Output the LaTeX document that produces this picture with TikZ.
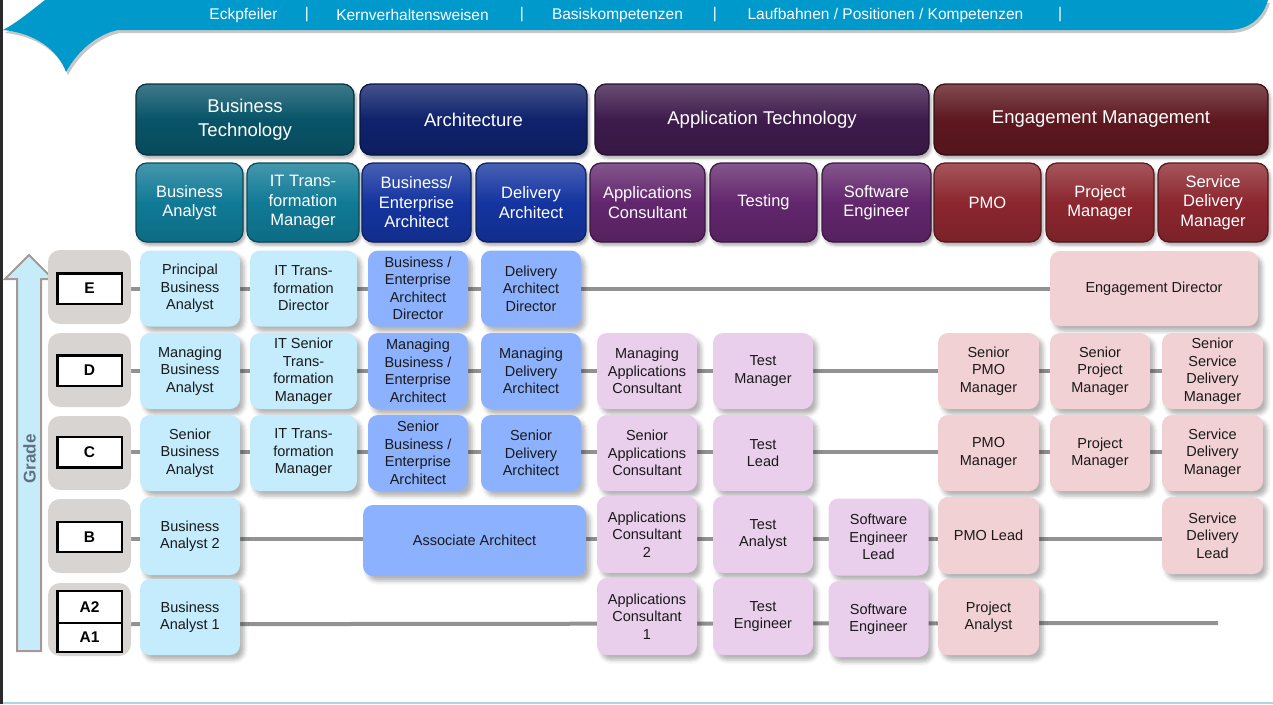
\documentclass[tikz,border=0pt]{standalone}
\usepackage{fontspec}
\setmainfont{Liberation Sans}
\usetikzlibrary{shadows.blur}

\definecolor{banner}{RGB}{0,153,204}
\definecolor{btD}{RGB}{8,84,104}
\definecolor{btM}{RGB}{16,122,150}
\definecolor{btL}{RGB}{196,236,252}
\definecolor{arD}{RGB}{15,34,108}
\definecolor{arM}{RGB}{20,52,160}
\definecolor{arL}{RGB}{140,178,255}
\definecolor{apD}{RGB}{62,27,76}
\definecolor{apM}{RGB}{98,38,108}
\definecolor{apL}{RGB}{233,207,236}
\definecolor{emD}{RGB}{94,24,31}
\definecolor{emM}{RGB}{140,38,46}
\definecolor{emL}{RGB}{242,209,213}
\definecolor{gradeG}{RGB}{216,212,209}
\definecolor{lineG}{RGB}{146,146,146}
\definecolor{txt}{RGB}{25,25,25}
\definecolor{arrowFill}{RGB}{198,236,250}
\definecolor{arrowRim}{RGB}{165,152,150}
\definecolor{gradeTxt}{RGB}{95,112,128}
\definecolor{frame}{RGB}{42,42,42}
\definecolor{baseLine}{RGB}{170,215,230}

\newcommand\fs[2]{\fontsize{#1}{#2}\selectfont}
\newcommand\bannerpath{(45,0) -- (1268,0) .. controls (1263,17) and (1250,30) .. (1228,30)
  -- (118,30) .. controls (98,34) and (78,50) .. (66,72)
  .. controls (58,50) and (35,33) .. (3,30)
  .. controls (18,22) and (32,10) .. (45,0) -- cycle}

\pgfdeclarelayer{back}
\pgfsetlayers{back,main}

\tikzset{
  hdr/.style={rounded corners=11pt, draw=#1!60!black, line width=1.2pt,
    top color=#1!78!white, bottom color=#1!88!black, middle color=#1,
    text=white, align=center, inner sep=0pt,
    blur shadow={shadow xshift=2pt, shadow yshift=-3pt, shadow blur radius=3pt, shadow opacity=35}},
  cat/.style={hdr=#1, minimum height=71pt, font=\fs{18.5}{24}},
  sub/.style={hdr=#1, minimum height=79pt, font=\fs{16.5}{19.5}},
  role/.style={rounded corners=10pt, fill=#1, text=txt, align=center, inner sep=0pt,
    minimum width=100pt, minimum height=76pt, font=\fs{14.5}{17.5},
    blur shadow={shadow xshift=4pt, shadow yshift=-5pt, shadow blur radius=4pt, shadow opacity=30}},
  gbox/.style={rounded corners=12pt, fill=gradeG, minimum width=83pt, minimum height=74pt, inner sep=0pt},
  glabel/.style={draw=black, line width=2.5pt, fill=white, minimum width=64.5pt, inner sep=0pt,
    font=\bfseries\fs{15.5}{18}},
  rowline/.style={draw=lineG, line width=4pt},
  menu/.style={text=white, font=\fs{15.5}{18}, inner sep=0pt},
}

\begin{document}
\begin{tikzpicture}[x=1pt,y=-1pt]
\useasboundingbox (0,0) rectangle (1273,704);

% top navigation band
\fill[black, opacity=0.22] [shift={(2,3)}] \bannerpath;
\fill[banner] \bannerpath;
\node[menu] (m1) at (243.5,15) {Eckpfeiler};
\node[menu] (s1) at (307,15) {|};
\node[menu] (m2) at (412.5,15) {Kernverhaltensweisen};
\node[menu] (s2) at (522,15) {|};
\node[menu] (m3) at (617.5,15) {Basiskompetenzen};
\node[menu] (s3) at (715,15) {|};
\node[menu] (m4) at (885.5,15) {Laufbahnen / Positionen / Kompetenzen};
\node[menu] (s4) at (1060,15) {|};

% page frame
\fill[frame] (0,0) rectangle (3,704);
\draw[baseLine, line width=2pt] (3,702.5) -- (1273,702.5);

% job families
\node[cat=btD, minimum width=218pt] (hBT) at (245,119.5) {Business\\Technology};
\node[cat=arD, minimum width=227pt] (hAR) at (473.5,119.5) {Architecture};
\node[cat=apD, minimum width=334pt] (hAP) at (762,119.5) {Application Technology};
\node[cat=emD, minimum width=334pt] (hEM) at (1101,119.5) {Engagement Management};

% career tracks
\node[sub=btM, minimum width=107pt] (rBA) at (189.5,202.5) {Business\\Analyst};
\node[sub=btM, minimum width=112pt] (rIT) at (303,202.5) {IT Trans-\\formation\\Manager};
\node[sub=arM, minimum width=109pt] (rBE) at (416.5,202.5) {Business/\\Enterprise\\Architect};
\node[sub=arM, minimum width=110pt] (rDA) at (531,202.5) {Delivery\\Architect};
\node[sub=apM, minimum width=115pt] (rAC) at (647.5,202.5) {Applications\\Consultant};
\node[sub=apM, minimum width=107pt] (rTE) at (763.5,202.5) {Testing};
\node[sub=apM, minimum width=109pt] (rSE) at (876.5,202.5) {Software\\Engineer};
\node[sub=emM, minimum width=107pt] (rPMO) at (987.5,202.5) {PMO};
\node[sub=emM, minimum width=108pt] (rPM) at (1100,202.5) {Project\\Manager};
\node[sub=emM, minimum width=110pt] (rSDM) at (1213,202.5) {Service\\Delivery\\Manager};

% grade arrow
\draw[arrowRim, fill=arrowFill, line width=2pt, line join=miter]
  (17,651) -- (17,279) -- (5,279) -- (29,255) -- (53,279) -- (41,279) -- (41,651) -- cycle;
\node[rotate=90, text=gradeTxt, font=\bfseries\fs{17}{20}, inner sep=0pt] (gradeTitle) at (29.5,459) {Grade};

% grade boxes
\node[gbox] (gE) at (89.5,287) {};
\node[gbox] (gD) at (89.5,370) {};
\node[gbox] (gC) at (89.5,453) {};
\node[gbox] (gB) at (89.5,536) {};
\node[gbox, minimum height=73pt] (gA) at (89.5,619.5) {};
\node[glabel, minimum height=30.5pt] (lE) at (89.5,288.5) {E};
\node[glabel, minimum height=30.5pt] (lD) at (89.5,370.5) {D};
\node[glabel, minimum height=30.5pt] (lC) at (89.5,452) {C};
\node[glabel, minimum height=30pt] (lB) at (89.5,537) {B};
\node[glabel, minimum height=32pt] (lA2) at (89.5,607) {A2};
\node[glabel, minimum height=29pt] (lA1) at (89.5,637.5) {A1};

% grade E
\node[role=btL] (pbaE) at (190,288.5) {Principal\\Business\\Analyst};
\node[role=btL, minimum width=107pt] (ittdE) at (303.5,288.5) {IT Trans-\\formation\\Director};
\node[role=arL] (beadE) at (418,288.5) {Business /\\Enterprise\\Architect\\Director};
\node[role=arL] (dadE) at (531,288.5) {Delivery\\Architect\\Director};
\node[role=emL, minimum width=208pt, minimum height=75pt] (edE) at (1154,288.5) {Engagement Director};

% grade D
\node[role=btL] (mbaD) at (190,371) {Managing\\Business\\Analyst};
\node[role=btL, minimum width=107pt] (itstmD) at (303.5,371) {IT Senior\\Trans-\\formation\\Manager};
\node[role=arL] (mbeaD) at (418,371) {Managing\\Business /\\Enterprise\\Architect};
\node[role=arL] (mdaD) at (531,371) {Managing\\Delivery\\Architect};
\node[role=apL] (macD) at (647,371) {Managing\\Applications\\Consultant};
\node[role=apL] (tmD) at (763,371) {Test\\Manager};
\node[role=emL, minimum width=101pt] (spmoD) at (988.5,371) {Senior\\PMO\\Manager};
\node[role=emL] (sprmD) at (1100,371) {Senior\\Project\\Manager};
\node[role=emL, minimum width=101pt] (ssdmD) at (1212.5,371) {Senior\\Service\\Delivery\\Manager};

% grade C
\node[role=btL] (sbaC) at (190,453) {Senior\\Business\\Analyst};
\node[role=btL, minimum width=107pt] (ittmC) at (303.5,453) {IT Trans-\\formation\\Manager};
\node[role=arL] (sbeaC) at (418,453) {Senior\\Business /\\Enterprise\\Architect};
\node[role=arL] (sdaC) at (531,453) {Senior\\Delivery\\Architect};
\node[role=apL] (sacC) at (647,453) {Senior\\Applications\\Consultant};
\node[role=apL] (tlC) at (763,453) {Test\\Lead};
\node[role=emL, minimum width=101pt] (pmomC) at (988.5,453) {PMO\\Manager};
\node[role=emL] (pmC) at (1100,453) {Project\\Manager};
\node[role=emL, minimum width=101pt] (sdmC) at (1212.5,453) {Service\\Delivery\\Manager};

% grade B
\node[role=btL, minimum height=78pt] (ba2B) at (190,536) {Business\\Analyst 2};
\node[role=arL, minimum width=223pt, minimum height=71pt] (aaB) at (474.5,540.5) {Associate Architect};
\node[role=apL, minimum height=77pt] (ac2B) at (647,534.5) {Applications\\Consultant\\2};
\node[role=apL, minimum height=77pt] (taB) at (763,534.5) {Test\\Analyst};
\node[role=apL, minimum height=77pt] (selB) at (878.5,537) {Software\\Engineer\\Lead};
\node[role=emL, minimum width=101pt, minimum height=77pt] (pmolB) at (988.5,535.5) {PMO Lead};
\node[role=emL, minimum width=101pt, minimum height=77pt] (sdlB) at (1212.5,535.5) {Service\\Delivery\\Lead};

% grade A
\node[role=btL] (ba1A) at (190,617) {Business\\Analyst 1};
\node[role=apL, minimum height=77pt] (ac1A) at (647,616.5) {Applications\\Consultant\\1};
\node[role=apL, minimum height=77pt] (teA) at (763,616.5) {Test\\Engineer};
\node[role=apL, minimum height=76pt] (seA) at (878.5,619) {Software\\Engineer};
\node[role=emL, minimum width=101pt] (paA) at (988.5,617) {Project\\Analyst};
\coordinate (endA) at (1218,623);

% grade lines behind the roles
\begin{pgfonlayer}{back}
  \draw[rowline] (lE.east) -- (lE -| edE.west);
  \draw[rowline] (lD.east) -- (lD -| ssdmD.west);
  \draw[rowline] (lC.east) -- (lC -| sdmC.west);
  \draw[rowline] ([yshift=-2pt]lB.east) -- ([yshift=-2pt]lB.east -| sdlB.west);
  \draw[rowline] (lA2.south east) -- (endA);
\end{pgfonlayer}
\end{tikzpicture}
\end{document}
